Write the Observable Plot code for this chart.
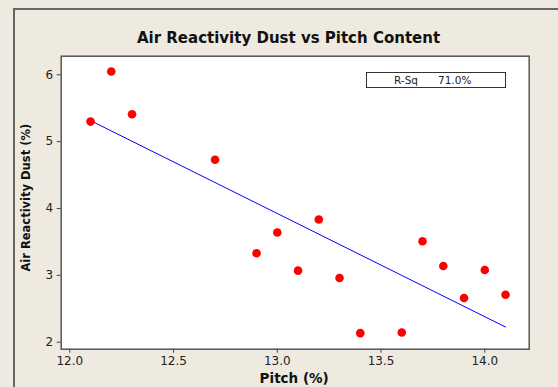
<!DOCTYPE html>
<html>
<head>
<meta charset="utf-8">
<script src="https://cdn.jsdelivr.net/npm/d3@7"></script>
<script src="https://cdn.jsdelivr.net/npm/@observablehq/plot@0.6"></script>
<style>
  html, body { margin: 0; padding: 0; background: #EEEAE0; }
  #wrap { position: relative; width: 558px; height: 387px; overflow: hidden; background: #EEEAE0; font-family: "DejaVu Sans", sans-serif; }
  #outer { position: absolute; left: 13px; top: 8px; width: 600px; height: 420px; border-left: 2px solid #666; border-top: 2px solid #666; }
  #chart { position: absolute; left: 0; top: 0; }
  #rsq { position: absolute; left: 366px; top: 72px; width: 138px; height: 14px; border: 1px solid #333; background: #fff; font-size: 10.5px; line-height: 14px; color: #222; }
  #rsq span { position: absolute; top: 0; }
</style>
</head>
<body>
<div id="wrap">
  <div id="outer"></div>
  <div id="chart"></div>
  <div id="rsq"><span id="rsqLabel" style="left:27px"></span><span id="rsqValue" style="left:71px"></span></div>
</div>
<script>
// Data
const pitch = [12.1, 12.2, 12.3, 12.7, 12.9, 13.0, 13.1, 13.2, 13.3, 13.4, 13.6, 13.7, 13.8, 13.9, 14.0, 14.1];
const dust  = [5.30, 6.05, 5.41, 4.73, 3.33, 3.64, 3.07, 3.835, 2.96, 2.135, 2.145, 3.51, 3.14, 2.66, 3.08, 2.71];
const xTicks = [12.0, 12.5, 13.0, 13.5, 14.0];
const yTicks = [2, 3, 4, 5, 6];
const title = "Air Reactivity Dust vs Pitch Content";
const xLabel = "Pitch (%)";
const yLabel = "Air Reactivity Dust (%)";
const rsqLabel = "R-Sq";
const rsqValue = "71.0%";

const data = pitch.map((p, i) => ({pitch: p, dust: dust[i]}));

const chart = Plot.plot({
  width: 558,
  height: 387,
  marginLeft: 60.7,
  marginRight: 29.3,
  marginTop: 55.7,
  marginBottom: 38.3,
  style: {background: "transparent", fontFamily: "DejaVu Sans, sans-serif", fontSize: "12px", color: "#222"},
  x: {domain: [11.9586, 14.214]},
  y: {domain: [1.895, 6.278]},
  marks: [
    Plot.frame({fill: "white"}),
    Plot.axisX({ticks: xTicks, tickFormat: d3.format(".1f"), tickSize: 4, tickPadding: 3, label: null, stroke: "#444", fill: "#222"}),
    Plot.axisY({ticks: yTicks, tickFormat: d3.format("d"), tickSize: 4, tickPadding: 4, label: null, stroke: "#444", fill: "#222"}),
    Plot.linearRegressionY(data, {x: "pitch", y: "dust", stroke: "#0000ff", strokeWidth: 1, ci: 0}),
    Plot.dot(data, {x: "pitch", y: "dust", r: 4.3, fill: "#ff0000", stroke: "none"}),
    Plot.frame({stroke: "#555", strokeWidth: 1.5}),
    Plot.text([title], {frameAnchor: "top", lineAnchor: "middle", textAnchor: "middle", dx: -6.7, dy: -18, fontSize: 15, fontWeight: "bold", fill: "#111"}),
    Plot.text([xLabel], {frameAnchor: "bottom", lineAnchor: "middle", textAnchor: "middle", dx: -1, dy: 29, fontSize: 13.5, fontWeight: "bold", fill: "#111"}),
    Plot.text([yLabel], {frameAnchor: "left", lineAnchor: "middle", textAnchor: "middle", dx: -35, dy: -5, rotate: -90, fontSize: 11.5, fontWeight: "bold", fill: "#111"})
  ]
});
document.getElementById("chart").appendChild(chart);
document.getElementById("rsqLabel").textContent = rsqLabel;
document.getElementById("rsqValue").textContent = rsqValue;
</script>
</body>
</html>
